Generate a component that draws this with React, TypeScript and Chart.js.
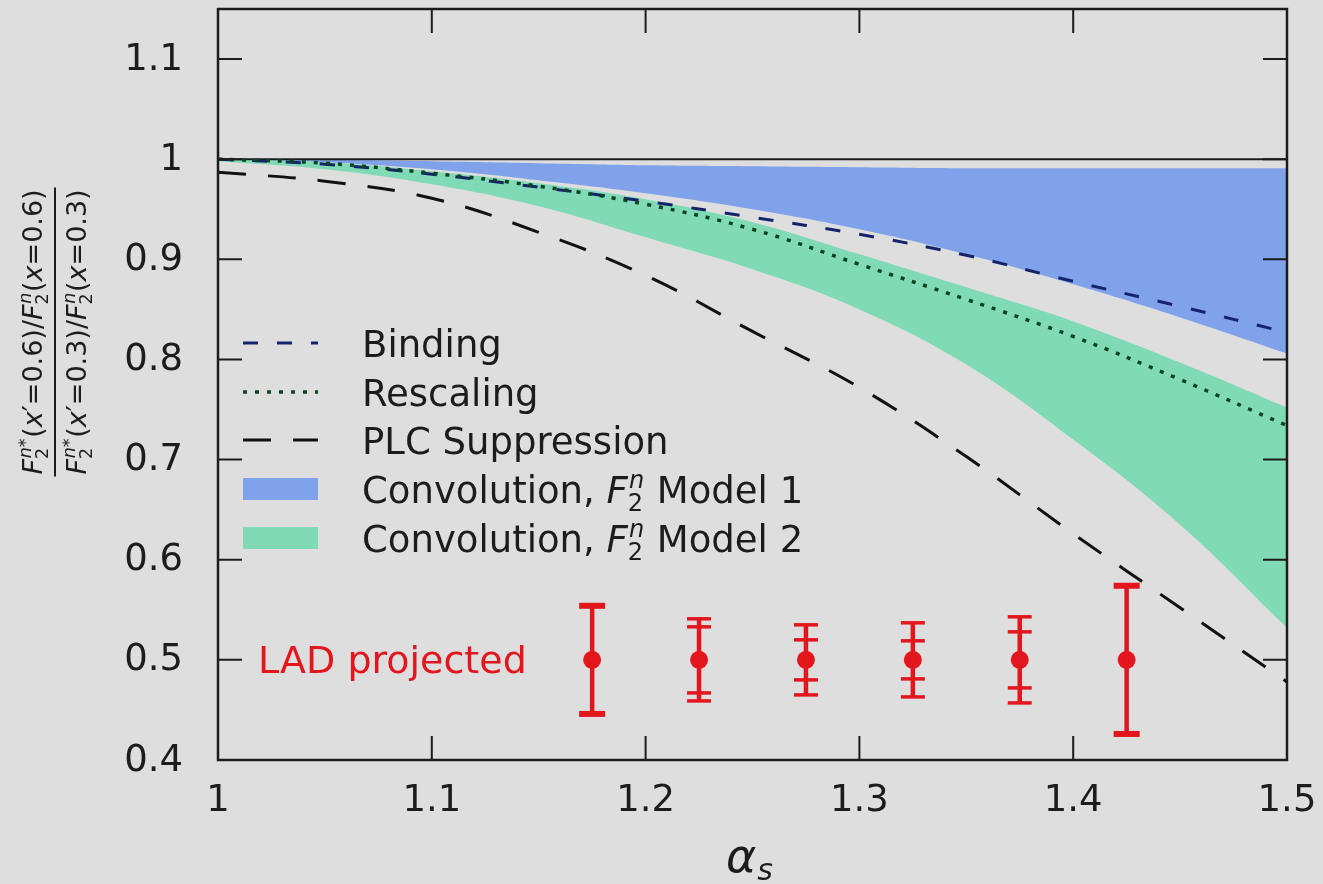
import { useEffect, useRef } from 'react';
import { Chart, registerables } from 'chart.js';

Chart.register(...registerables);

// ---- data ----
const alphaGrid = [1.0, 1.05, 1.1, 1.15, 1.2, 1.25, 1.3, 1.35, 1.4, 1.45, 1.5];
const bindingVals = [1.0, 0.995, 0.985, 0.972, 0.958, 0.942, 0.925, 0.904, 0.878, 0.853, 0.827];
const rescalingVals = [1.0, 0.996, 0.986, 0.973, 0.955, 0.93, 0.895, 0.86, 0.823, 0.78, 0.734];
const plcVals = [0.987, 0.978, 0.961, 0.927, 0.884, 0.828, 0.772, 0.703, 0.626, 0.552, 0.478];
const model1Upper = [1.0, 0.9995, 0.998, 0.996, 0.994, 0.993, 0.992, 0.991, 0.991, 0.991, 0.991];
const model1Lower = [1.0, 0.997, 0.99, 0.979, 0.966, 0.95, 0.93, 0.905, 0.875, 0.842, 0.806];
const model2Upper = [1.0, 0.997, 0.988, 0.976, 0.96, 0.937, 0.905, 0.872, 0.838, 0.797, 0.752];
const model2Lower = [0.998, 0.99, 0.975, 0.953, 0.922, 0.89, 0.85, 0.795, 0.72, 0.635, 0.532];
const unityX = [1.0, 1.5];
const unityY = [1.0, 1.0];

const ladX = [1.175, 1.225, 1.275, 1.325, 1.375, 1.425];
const ladY = [0.5, 0.5, 0.5, 0.5, 0.5, 0.5];
const ladOuterErr = [0.054, 0.041, 0.035, 0.037, 0.043, 0.074];
const ladInnerErr: (number | null)[] = [null, 0.033, 0.02, 0.019, 0.028, null];

const xTicks = [1, 1.1, 1.2, 1.3, 1.4, 1.5];
const xTickLabels = ['1', '1.1', '1.2', '1.3', '1.4', '1.5'];
const yTicks = [0.4, 0.5, 0.6, 0.7, 0.8, 0.9, 1.0, 1.1];
const yTickLabels = ['0.4', '0.5', '0.6', '0.7', '0.8', '0.9', '1', '1.1'];

const legendLabels = ['Binding', 'Rescaling', 'PLC Suppression', 'Convolution, ', 'Convolution, '];
const ladLabel = 'LAD projected';

// ---- styles ----
const BG = '#dedede';
const INK = '#1c1c1c';
const RED = '#e3161d';
const BLUE = '#7fa2ea';
const GREEN = '#80dab5';
const BINDING_COLOR = '#15236a';
const RESCALING_COLOR = '#0b4423';
const FONT = '"DejaVu Sans", sans-serif';

type Run = { t: string; it?: boolean; sup?: string; sub?: string };

const fnt = (size: number, it?: boolean) => `${it ? 'italic ' : ''}${size}px ${FONT}`;

function runsWidth(ctx: CanvasRenderingContext2D, runs: Run[], size: number) {
  let w = 0;
  for (const r of runs) {
    ctx.font = fnt(size, r.it);
    w += ctx.measureText(r.t).width;
    if (r.sup || r.sub) {
      ctx.font = fnt(size * 0.65, true);
      const a = r.sup ? ctx.measureText(r.sup).width : 0;
      ctx.font = fnt(size * 0.65, false);
      const b = r.sub ? ctx.measureText(r.sub).width : 0;
      w += Math.max(a, b) + size * 0.05;
    }
  }
  return w;
}

function drawRuns(ctx: CanvasRenderingContext2D, runs: Run[], x: number, y: number, size: number) {
  ctx.textAlign = 'left';
  ctx.textBaseline = 'alphabetic';
  for (const r of runs) {
    ctx.font = fnt(size, r.it);
    ctx.fillText(r.t, x, y);
    x += ctx.measureText(r.t).width;
    if (r.sup || r.sub) {
      let a = 0;
      let b = 0;
      if (r.sup) {
        ctx.font = fnt(size * 0.65, true);
        ctx.fillText(r.sup, x + size * 0.03, y - size * 0.4);
        a = ctx.measureText(r.sup).width;
      }
      if (r.sub) {
        ctx.font = fnt(size * 0.65, false);
        ctx.fillText(r.sub, x, y + size * 0.22);
        b = ctx.measureText(r.sub).width;
      }
      x += Math.max(a, b) + size * 0.05;
    }
  }
  return x;
}

const decorPlugin = {
  id: 'decor',
  afterDatasetsDraw(chart: any) {
    const ctx: CanvasRenderingContext2D = chart.ctx;
    const xs = chart.scales.x;
    const ys = chart.scales.y;
    ctx.save();
    ctx.strokeStyle = RED;
    ctx.lineCap = 'butt';
    for (let i = 0; i < ladX.length; i++) {
      const px = xs.getPixelForValue(ladX[i]);
      const top = ys.getPixelForValue(ladY[i] + ladOuterErr[i]);
      const bot = ys.getPixelForValue(ladY[i] - ladOuterErr[i]);
      ctx.lineWidth = 4.5;
      ctx.beginPath();
      ctx.moveTo(px, top);
      ctx.lineTo(px, bot);
      ctx.stroke();
      const inner = ladInnerErr[i];
      const capW = inner == null ? 13 : 12;
      ctx.lineWidth = inner == null ? 6 : 3.5;
      const caps = [top, bot];
      if (inner != null) {
        caps.push(ys.getPixelForValue(ladY[i] + inner), ys.getPixelForValue(ladY[i] - inner));
      }
      for (const cy of caps) {
        ctx.beginPath();
        ctx.moveTo(px - capW, cy);
        ctx.lineTo(px + capW, cy);
        ctx.stroke();
      }
    }
    ctx.restore();
  },
  afterDraw(chart: any) {
    const ctx: CanvasRenderingContext2D = chart.ctx;
    const { left, right, top, bottom } = chart.chartArea;
    const xs = chart.scales.x;
    const ys = chart.scales.y;
    ctx.save();
    // frame
    ctx.strokeStyle = INK;
    ctx.lineWidth = 2.5;
    ctx.strokeRect(left, top, right - left, bottom - top);
    // inward ticks on all sides
    ctx.lineWidth = 2;
    const tl = 24;
    for (const v of xTicks) {
      const px = xs.getPixelForValue(v);
      ctx.beginPath();
      ctx.moveTo(px, bottom);
      ctx.lineTo(px, bottom - tl);
      ctx.moveTo(px, top);
      ctx.lineTo(px, top + tl);
      ctx.stroke();
    }
    for (const v of yTicks) {
      const py = ys.getPixelForValue(v);
      ctx.beginPath();
      ctx.moveTo(left, py);
      ctx.lineTo(left + tl, py);
      ctx.moveTo(right, py);
      ctx.lineTo(right - tl, py);
      ctx.stroke();
    }

    // tick labels
    ctx.fillStyle = INK;
    ctx.font = fnt(37);
    ctx.textAlign = 'center';
    ctx.textBaseline = 'middle';
    xTicks.forEach((v, i) => {
      ctx.fillText(xTickLabels[i], xs.getPixelForValue(v), bottom + 41);
    });
    ctx.textAlign = 'right';
    yTicks.forEach((v, i) => {
      ctx.fillText(yTickLabels[i], left - 35, ys.getPixelForValue(v) + 1);
    });

    // legend
    const sx0 = 243;
    const sx1 = 318;
    const tx = 362;
    const rowY = [343, 392, 440, 489, 538];
    const size = 37;
    const lineStyles = [
      { c: BINDING_COLOR, d: [15, 19], w: 3 },
      { c: RESCALING_COLOR, d: [4, 8], w: 3.5 },
      { c: '#111', d: [28, 22], w: 3 },
    ];
    for (let i = 0; i < 5; i++) {
      const y = rowY[i];
      if (i < 3) {
        const s = lineStyles[i];
        ctx.strokeStyle = s.c;
        ctx.lineWidth = s.w;
        ctx.setLineDash(s.d);
        ctx.beginPath();
        ctx.moveTo(sx0, y);
        ctx.lineTo(sx1, y);
        ctx.stroke();
        ctx.setLineDash([]);
      } else {
        ctx.fillStyle = i === 3 ? BLUE : GREEN;
        ctx.fillRect(sx0, y - 11, sx1 - sx0, 22);
      }
      ctx.fillStyle = INK;
      const base = y + 13.5;
      if (i < 3) {
        drawRuns(ctx, [{ t: legendLabels[i] }], tx, base, size);
      } else {
        drawRuns(
          ctx,
          [
            { t: legendLabels[i] },
            { t: 'F', it: true, sup: 'n', sub: '2' },
            { t: i === 3 ? ' Model 1' : ' Model 2' },
          ],
          tx,
          base,
          size,
        );
      }
    }

    // LAD label
    ctx.fillStyle = RED;
    ctx.font = fnt(38);
    ctx.textAlign = 'left';
    ctx.textBaseline = 'alphabetic';
    ctx.fillText(ladLabel, 258, 673);

    // x axis title: alpha_s
    ctx.fillStyle = INK;
    ctx.font = fnt(46, true);
    ctx.fillText('α', 726, 872);
    const aw = ctx.measureText('α').width;
    ctx.font = fnt(30, true);
    ctx.fillText('s', 726 + aw + 1, 880);

    // y axis title: fraction, rotated
    const ySize = 27;
    const num: Run[] = [
      { t: 'F', it: true, sup: 'n*', sub: '2' },
      { t: '(' },
      { t: 'x', it: true },
      { t: '′=0.6)/' },
      { t: 'F', it: true, sup: 'n', sub: '2' },
      { t: '(' },
      { t: 'x', it: true },
      { t: '=0.6)' },
    ];
    const den: Run[] = [
      { t: 'F', it: true, sup: 'n*', sub: '2' },
      { t: '(' },
      { t: 'x', it: true },
      { t: '′=0.3)/' },
      { t: 'F', it: true, sup: 'n', sub: '2' },
      { t: '(' },
      { t: 'x', it: true },
      { t: '=0.3)' },
    ];
    ctx.translate(55, 332);
    ctx.rotate(-Math.PI / 2);
    const nw = runsWidth(ctx, num, ySize);
    const dw = runsWidth(ctx, den, ySize);
    const bw = Math.max(nw, dw) + 4;
    drawRuns(ctx, num, -nw / 2, -13, ySize);
    drawRuns(ctx, den, -dw / 2, 31, ySize);
    ctx.strokeStyle = INK;
    ctx.lineWidth = 2;
    ctx.beginPath();
    ctx.moveTo(-bw / 2, 0);
    ctx.lineTo(bw / 2, 0);
    ctx.stroke();
    ctx.restore();
  },
};

const pts = (xs: number[], ys: number[]) => xs.map((x, i) => ({ x, y: ys[i] }));

export default function App() {
  const ref = useRef<HTMLCanvasElement>(null);

  useEffect(() => {
    const canvas = ref.current;
    if (!canvas) return;
    const lineBase = { pointRadius: 0, tension: 0.4, fill: false };
    const chart = new Chart(canvas, {
      type: 'line',
      data: {
        datasets: [
          {
            label: ladLabel,
            data: pts(ladX, ladY),
            showLine: false,
            pointRadius: 9,
            pointBackgroundColor: RED,
            pointBorderColor: RED,
            pointBorderWidth: 0,
            borderColor: RED,
          },
          {
            ...lineBase,
            label: 'PLC Suppression',
            data: pts(alphaGrid, plcVals),
            borderColor: '#111',
            borderWidth: 3,
            borderDash: [28, 22],
          },
          {
            ...lineBase,
            label: 'Rescaling',
            data: pts(alphaGrid, rescalingVals),
            borderColor: RESCALING_COLOR,
            borderWidth: 3.5,
            borderDash: [4, 8],
          },
          {
            ...lineBase,
            label: 'Binding',
            data: pts(alphaGrid, bindingVals),
            borderColor: BINDING_COLOR,
            borderWidth: 3,
            borderDash: [15, 19],
          },
          {
            ...lineBase,
            label: 'unity',
            data: pts(unityX, unityY),
            borderColor: INK,
            borderWidth: 2,
          },
          {
            ...lineBase,
            label: 'Model 2 upper',
            data: pts(alphaGrid, model2Upper),
            borderWidth: 0,
            borderColor: 'rgba(0,0,0,0)',
            backgroundColor: GREEN,
            fill: '+1',
          },
          {
            ...lineBase,
            label: 'Model 2 lower',
            data: pts(alphaGrid, model2Lower),
            borderWidth: 0,
            borderColor: 'rgba(0,0,0,0)',
          },
          {
            ...lineBase,
            label: 'Model 1 upper',
            data: pts(alphaGrid, model1Upper),
            borderWidth: 0,
            borderColor: 'rgba(0,0,0,0)',
            backgroundColor: BLUE,
            fill: '+1',
          },
          {
            ...lineBase,
            label: 'Model 1 lower',
            data: pts(alphaGrid, model1Lower),
            borderWidth: 0,
            borderColor: 'rgba(0,0,0,0)',
          },
        ],
      },
      options: {
        responsive: false,
        animation: false,
        layout: { padding: { top: 9, right: 36, left: 0, bottom: 0 } },
        plugins: {
          legend: { display: false },
          tooltip: { enabled: false },
        },
        scales: {
          x: {
            type: 'linear',
            min: 1,
            max: 1.5,
            afterBuildTicks: (scale: any) => {
              scale.ticks = xTicks.map((v) => ({ value: v }));
            },
            afterFit: (scale: any) => {
              scale.height = 124;
            },
            grid: { display: false, drawTicks: false },
            border: { display: false },
            ticks: { display: false },
          },
          y: {
            type: 'linear',
            min: 0.4,
            max: 1.15,
            afterBuildTicks: (scale: any) => {
              scale.ticks = yTicks.map((v) => ({ value: v }));
            },
            afterFit: (scale: any) => {
              scale.width = 218;
            },
            grid: { display: false, drawTicks: false },
            border: { display: false },
            ticks: { display: false },
          },
        },
      },
      plugins: [decorPlugin],
    } as any);
    return () => chart.destroy();
  }, []);

  return (
    <div style={{ position: 'absolute', left: 0, top: 0, width: 1323, height: 884, background: BG }}>
      <canvas ref={ref} width={1323} height={884} style={{ display: 'block' }} />
    </div>
  );
}
